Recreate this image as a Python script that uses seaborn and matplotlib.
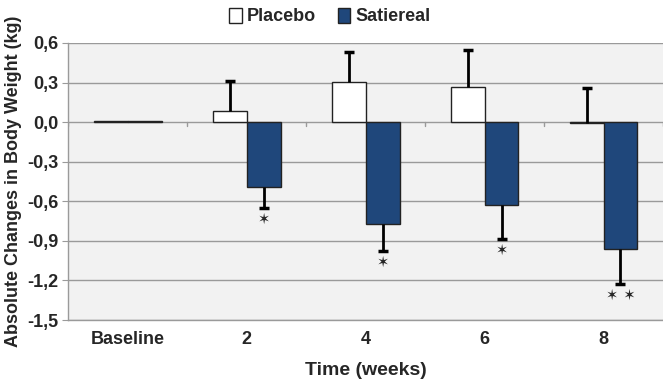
import matplotlib
matplotlib.use("Agg")
import matplotlib.pyplot as plt
import numpy as np
import pandas as pd
import seaborn as sns

categories = ["Baseline", "2", "4", "6", "8"]
placebo = [0.005, 0.088, 0.305, 0.265, -0.01]
satiereal = [0.005, -0.49, -0.775, -0.625, -0.96]
placebo_err = [0.0, 0.225, 0.225, 0.285, 0.27]
satiereal_err = [0.0, 0.16, 0.20, 0.26, 0.265]
satiereal_stars = ["", "\u2736", "\u2736", "\u2736", "\u2736 \u2736"]
yticks = [0.6, 0.3, 0.0, -0.3, -0.6, -0.9, -1.2, -1.5]

df = pd.DataFrame({
    "time": categories * 2,
    "group": ["Placebo"] * 5 + ["Satiereal"] * 5,
    "value": placebo + satiereal,
})

sns.set_style("white")
plt.rcParams["font.family"] = ["Liberation Sans", "DejaVu Sans"]
plt.rcParams["font.weight"] = "bold"

fig = plt.figure(figsize=(6.63, 3.87), dpi=100)
ax = fig.add_axes([0.103, 0.173, 0.897, 0.716])
ax.set_facecolor("#f2f2f2")

width = 0.57
sns.barplot(
    data=df, x="time", y="value", hue="group", order=categories,
    palette={"Placebo": "white", "Satiereal": "#1f477b"}, saturation=1,
    width=width, edgecolor="#222222", linewidth=1.0, ax=ax, zorder=3,
    errorbar=None,
)

# grid lines
for y in yticks:
    ax.axhline(y, color="#9a9a9a", lw=1.0, zorder=1)

# one-sided error bars
x = np.arange(len(categories))
px = x - width / 4
sx = x + width / 4
for i in range(len(categories)):
    if placebo_err[i] > 0:
        top = placebo[i] + placebo_err[i]
        ax.vlines(px[i], placebo[i], top, color="black", lw=2, zorder=4)
        ax.plot(px[i], top, marker="_", ms=7, mew=2.5, color="black", zorder=4)
    if satiereal_err[i] > 0:
        bot = satiereal[i] - satiereal_err[i]
        ax.vlines(sx[i], bot, satiereal[i], color="black", lw=2, zorder=4)
        ax.plot(sx[i], bot, marker="_", ms=7, mew=2.5, color="black", zorder=4)
        ax.text(sx[i], bot - 0.085, satiereal_stars[i], ha="center", va="center",
                fontsize=10.5, family="DejaVu Sans", fontweight="bold", zorder=5)

# tick marks between categories on the zero line
for b in np.arange(-0.5, len(categories) - 0.4, 1.0):
    ax.plot([b, b], [0, -0.03], color="#9a9a9a", lw=1.0, zorder=2)

ax.set_xlim(-0.5, len(categories) - 0.5)
ax.set_ylim(-1.5, 0.6)
ax.set_yticks(yticks)
ax.set_yticklabels([f"{v:.1f}".replace(".", ",") for v in yticks])
ax.tick_params(axis="y", length=4, color="#9a9a9a", labelsize=13, pad=3, left=True)
ax.tick_params(axis="x", length=0, labelsize=13, pad=8)
for lbl in ax.get_xticklabels() + ax.get_yticklabels():
    lbl.set_fontweight("bold")

for s in ["top", "right"]:
    ax.spines[s].set_visible(False)
for s in ["left", "bottom"]:
    ax.spines[s].set_color("#9a9a9a")
    ax.spines[s].set_linewidth(1.0)

ax.set_xlabel("Time (weeks)", fontsize=14, fontweight="bold", labelpad=10)
ax.set_ylabel("Absolute Changes in Body Weight (kg)", fontsize=13, fontweight="bold", labelpad=4)

ax.legend(loc="lower center", bbox_to_anchor=(0.44, 1.005), ncol=2, frameon=False,
          handlelength=0.7, handleheight=0.9, handletextpad=0.3, columnspacing=1.2,
          prop={"size": 13, "weight": "bold"})

fig.savefig("out.png", dpi=100)
